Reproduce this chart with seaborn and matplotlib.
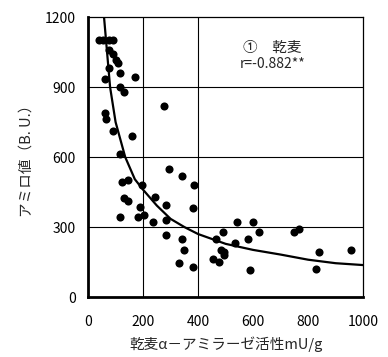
import numpy as np
import matplotlib
matplotlib.use("Agg")
import matplotlib.pyplot as plt
import seaborn as sns
import pandas as pd

#################################################
#   DATA  --------------------------------------
#################################################
activity = [40, 55, 75, 90, 75, 90, 100, 108, 75, 115, 170, 60, 115, 130, 275,
            60, 65, 90, 160, 115, 295, 340, 125, 145, 195, 385, 130, 145, 245,
            190, 285, 380, 115, 180, 205, 235, 285, 285, 340, 350, 330, 380,
            490, 540, 600, 620, 465, 580, 535, 485, 495, 495, 455, 475, 590,
            750, 765, 840, 830, 955]
amylo = [1100, 1100, 1100, 1100, 1060, 1040, 1015, 1005, 980, 960, 945, 935,
         900, 880, 820, 790, 765, 710, 690, 615, 550, 520, 495, 500, 480, 480,
         425, 410, 430, 385, 395, 380, 345, 345, 350, 320, 330, 265, 250, 200,
         145, 130, 280, 320, 320, 280, 248, 250, 230, 200, 195, 180, 165, 150,
         118, 280, 290, 195, 120, 200]

# fitted curve, read at several x positions
curve_x = [58, 80, 100, 135, 170, 200, 250, 300, 350, 400, 500, 600, 700, 800, 900, 1000]
curve_y = [1200, 900, 750, 600, 505, 460, 392, 335, 300, 270, 228, 202, 182, 160, 145, 137]

x_ticks = [0, 200, 400, 600, 800, 1000]
y_ticks = [0, 300, 600, 900, 1200]
x_grid = [200, 400]
y_grid = [300, 600, 900]

df = pd.DataFrame({"activity": activity, "amylo": amylo})
df_curve = pd.DataFrame({"x": curve_x, "y": curve_y})

#################################################
#   PLOT    -------------------------------------
#################################################
sns.set_style("white")
plt.rcParams['font.family'] = ['Noto Sans CJK JP', 'DejaVu Sans']

fig = plt.figure(figsize=(3.88, 3.57), dpi=100)
ax = fig.add_axes([0.227, 0.168, 0.709, 0.784])

for xv in x_grid:
    ax.axvline(xv, color='black', lw=0.8, zorder=1)
for yv in y_grid:
    ax.axhline(yv, color='black', lw=0.8, zorder=1)

sns.scatterplot(data=df, x="activity", y="amylo", ax=ax, color='black',
                s=34, edgecolor='black', linewidth=0, zorder=3)
sns.lineplot(data=df_curve, x="x", y="y", ax=ax, color='black', lw=1.6,
             zorder=2)

ax.set_xlim(0, 1000)
ax.set_ylim(0, 1200)
ax.set_xticks(x_ticks)
ax.set_yticks(y_ticks)
ax.tick_params(axis='both', direction='in', length=4, width=1.2,
               labelsize=10, colors='black')
ax.tick_params(axis='x', pad=13)
ax.tick_params(axis='y', pad=9)

for side in ['left', 'bottom']:
    ax.spines[side].set_linewidth(2)
    ax.spines[side].set_color('black')
for side in ['top', 'right']:
    ax.spines[side].set_linewidth(0.9)
    ax.spines[side].set_color('black')
    ax.spines[side].set_visible(True)

ax.set_xlabel("乾麦α－アミラーゼ活性mU/g", fontsize=10.5, labelpad=5)
ax.set_ylabel("アミロ値（B. U.）", fontsize=10.5, labelpad=8)

ax.text(670, 1070, "①　乾麦", ha='center', va='center', fontsize=10.5)
ax.text(670, 1000, "r=-0.882**", ha='center', va='center', fontsize=10)

fig.savefig("out.png", dpi=100)
